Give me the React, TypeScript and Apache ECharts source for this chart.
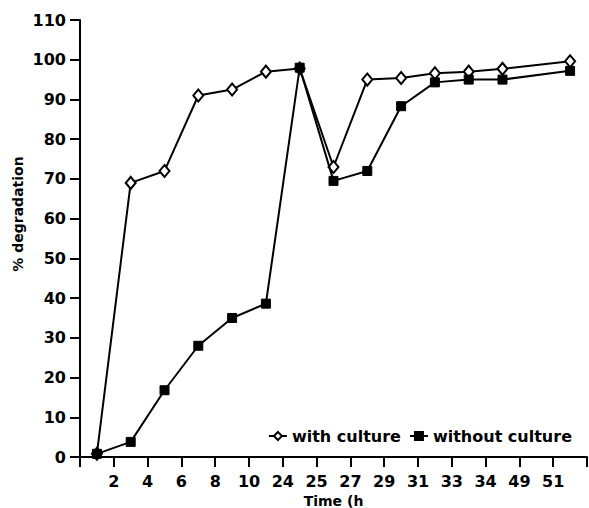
import React, { useEffect, useRef } from "react";
import * as echarts from "echarts";

const tickLabels = ["2", "4", "6", "8", "10", "24", "25", "27", "29", "31", "33", "34", "49", "51"];
const slots = [0.5, 1.5, 2.5, 3.5, 4.5, 5.5, 6.5, 7.5, 8.5, 9.5, 10.5, 11.5, 12.5, 14.5];
const withCulture = [0.8, 69, 72, 91, 92.5, 97, 97.8, 73, 95, 95.4, 96.6, 97, 97.7, 99.6];
const withoutCulture = [0.8, 3.8, 16.8, 28, 35, 38.6, 98, 69.5, 72, 88.3, 94.3, 95, 95, 97.2];

const FONT = "DejaVu Sans";

export default function App() {
  const ref = useRef<HTMLDivElement>(null);
  useEffect(() => {
    if (!ref.current) return;
    const chart = echarts.init(ref.current, null, { renderer: "svg" });
    const pair = (vals: number[]) => vals.map((v, i) => [slots[i], v]);
    chart.setOption({
      animation: false,
      backgroundColor: "#fff",
      grid: { left: 80, right: 2, top: 20, bottom: 51, containLabel: false, outerBoundsMode: "none" },
      legend: {
        right: 12,
        top: 423,
        itemGap: 8,
        itemWidth: 18,
        itemHeight: 10,
        textStyle: { fontFamily: FONT, fontWeight: "bold", fontSize: 16, color: "#000" },
        data: ["with culture", "without culture"],
      },
      xAxis: {
        type: "value",
        min: 0,
        max: 15,
        interval: 1,
        name: "Time (h",
        nameLocation: "middle",
        nameGap: 36,
        nameTextStyle: { fontFamily: FONT, fontWeight: "bold", fontSize: 14, color: "#000" },
        axisLine: { lineStyle: { color: "#000", width: 2 } },
        axisTick: { show: true, length: 10, lineStyle: { color: "#000", width: 2 } },
        axisLabel: {
          margin: 16,
          fontFamily: FONT,
          fontWeight: "bold",
          fontSize: 16,
          color: "#000",
          showMinLabel: true,
          showMaxLabel: true,
          formatter: (v: number) => tickLabels[Math.round(v) - 1] ?? "",
        },
        splitLine: { show: false },
      },
      yAxis: {
        type: "value",
        min: 0,
        max: 110,
        interval: 10,
        axisLine: { show: true, lineStyle: { color: "#000", width: 2 } },
        axisTick: { show: true, length: 10, lineStyle: { color: "#000", width: 2 } },
        axisLabel: { margin: 14, fontFamily: FONT, fontWeight: "bold", fontSize: 16, color: "#000" },
        splitLine: { show: false },
      },
      graphic: [
        {
          type: "text",
          x: 18,
          y: 214,
          rotation: Math.PI / 2,
          style: {
            text: "% degradation",
            fontFamily: FONT,
            fontWeight: "bold",
            fontSize: 14,
            fill: "#000",
            align: "center",
            verticalAlign: "middle",
          },
        },
      ],
      series: [
        {
          name: "with culture",
          type: "line",
          data: pair(withCulture),
          symbol: "diamond",
          symbolSize: [10, 12],
          lineStyle: { color: "#000", width: 2 },
          itemStyle: { color: "#fff", borderColor: "#000", borderWidth: 2 },
          z: 2,
        },
        {
          name: "without culture",
          type: "line",
          data: pair(withoutCulture),
          symbol: "rect",
          symbolSize: 9,
          lineStyle: { color: "#000", width: 2 },
          itemStyle: { color: "#000", borderColor: "#000", borderWidth: 1 },
          z: 3,
        },
      ],
    });
    return () => chart.dispose();
  }, []);
  return <div ref={ref} style={{ width: 589, height: 508, position: "absolute", left: 0, top: 0 }} />;
}
